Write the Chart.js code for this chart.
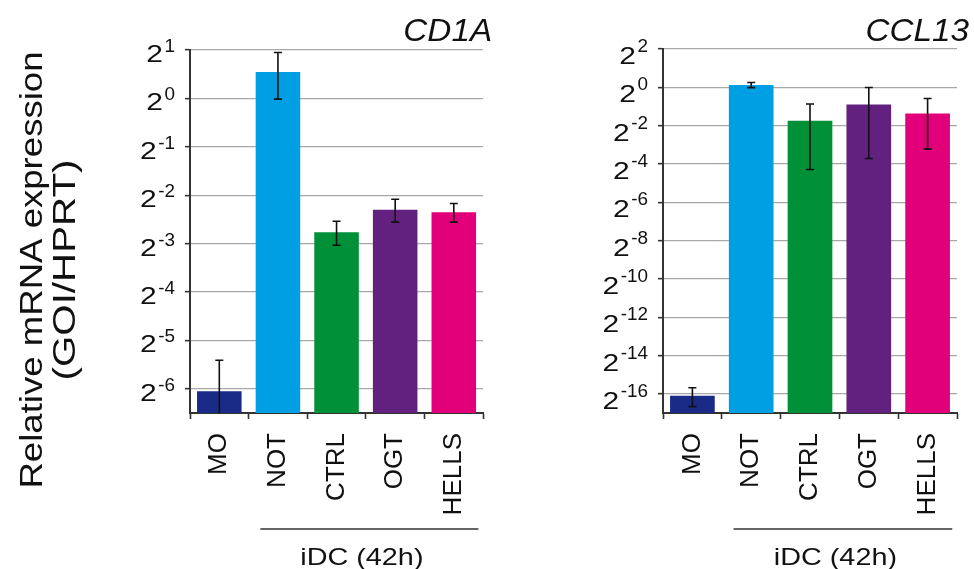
<!DOCTYPE html>
<html>
<head>
<meta charset="utf-8">
<script src="https://cdn.jsdelivr.net/npm/chart.js@4.4.1/dist/chart.umd.min.js"></script>
<style>
  body { margin: 0; background: #fff; }
  #wrap { position: relative; width: 974px; height: 569px; }
  #left { position: absolute; left: 0; top: 0; }
  #right { position: absolute; left: 500px; top: 0; }
</style>
</head>
<body>
<div id="wrap">
  <div id="left" style="width:500px;height:569px"><canvas id="cd1a"></canvas></div>
  <div id="right" style="width:474px;height:569px"><canvas id="ccl13"></canvas></div>
</div>
<script>
const categories = ["MO", "NOT", "CTRL", "OGT", "HELLS"];
const barColors = ["#1a2a87", "#009fe3", "#009038", "#62217f", "#e2007a"];

// relative mRNA expression (GOI/HPRT) and SD
const cd1aValues = [0.0151, 1.46, 0.147, 0.203, 0.196];
const cd1aErrors = [0.0084, 0.47, 0.025, 0.033, 0.026];
const ccl13Values = [0.0000143, 1.09, 0.299, 0.536, 0.387];
const ccl13Errors = [0.0000047, 0.10, 0.248, 0.46, 0.28];

// y tick labels, as powers of two
const cd1aTickExps = [1, 0, -1, -2, -3, -4, -5, -6];
const ccl13TickExps = [2, 0, -2, -4, -6, -8, -10, -12, -14, -16];

const groupLabel = "iDC (42h)";
const yTitle = ["Relative mRNA expression", "(GOI/HPRT)"];

const FONT = "'Liberation Sans', Arial, sans-serif";

// the source font is wider than Arial, so stretch it a bit
function wideText(ctx, text, x, y, sx, align) {
  ctx.save();
  ctx.translate(x, y);
  ctx.scale(sx, 1);
  ctx.textAlign = align;
  ctx.fillText(text, 0, 0);
  ctx.restore();
}

const extrasPlugin = {
  id: "extras",
  afterDatasetsDraw(chart) {
    const ctx = chart.ctx;
    const o = chart.options.plugins.extras;
    const y = chart.scales.y;
    const area = chart.chartArea;
    const meta = chart.getDatasetMeta(0);

    // error bars
    ctx.save();
    ctx.strokeStyle = "#111";
    ctx.lineWidth = 1.6;
    meta.data.forEach((bar, i) => {
      const v = o.values[i], e = o.errors[i];
      const top = y.getPixelForValue(v + e);
      let bot = v - e > 0 ? y.getPixelForValue(v - e) : area.bottom;
      const clipped = bot >= area.bottom;
      if (clipped) bot = area.bottom;
      ctx.beginPath();
      ctx.moveTo(bar.x, top); ctx.lineTo(bar.x, bot);
      ctx.moveTo(bar.x - 4, top); ctx.lineTo(bar.x + 4, top);
      if (!clipped) { ctx.moveTo(bar.x - 4, bot); ctx.lineTo(bar.x + 4, bot); }
      ctx.stroke();
    });
    ctx.restore();
  },
  afterDraw(chart) {
    const ctx = chart.ctx;
    const o = chart.options.plugins.extras;
    const y = chart.scales.y;
    const x = chart.scales.x;
    const area = chart.chartArea;
    ctx.save();
    ctx.fillStyle = "#111";
    ctx.textBaseline = "alphabetic";

    // y tick labels 2^n
    o.tickExps.forEach(n => {
      const py = y.getPixelForValue(Math.pow(2, n));
      const right = area.left - 15;
      const ex = String(n);
      ctx.font = "18px " + FONT;
      const ew = ctx.measureText(ex).width * 1.05;
      wideText(ctx, ex, right, py + o.expDy, 1.05, "right");
      ctx.font = "24px " + FONT;
      wideText(ctx, "2", right - ew - 1.5, py + o.baseDy, 1.25, "right");
    });

    // title
    ctx.font = "italic 32px " + FONT;
    wideText(ctx, o.title, area.right + o.titleShift, 41, 1.04, "right");

    // group bracket and label
    const w = x.getPixelForValue(1) - x.getPixelForValue(0);
    const c1 = x.getPixelForValue(1), c4 = x.getPixelForValue(4);
    ctx.strokeStyle = "#333";
    ctx.lineWidth = 1.5;
    ctx.beginPath();
    ctx.moveTo(c1 - 0.3 * w, 529);
    ctx.lineTo(c4 + 0.42 * w, 529);
    ctx.stroke();
    ctx.font = "24px " + FONT;
    wideText(ctx, groupLabel, (c1 + c4) / 2 - 4, 565, 1.2, "center");

    // shared y title, left chart only
    if (o.yTitle) {
      ctx.translate(0, 270);
      ctx.rotate(-Math.PI / 2);
      ctx.font = "31px " + FONT;
      wideText(ctx, yTitle[0], 0, 42, 1.18, "center");
      wideText(ctx, yTitle[1], 0, 75, 1.3, "center");
    }
    ctx.restore();
  }
};

function makeChart(id, values, errors, tickExps, minExp, maxExp, opts) {
  return new Chart(document.getElementById(id), {
    type: "bar",
    data: {
      labels: categories,
      datasets: [{
        data: values,
        backgroundColor: barColors,
        borderWidth: 0,
        barPercentage: 0.76,
        categoryPercentage: 1.0
      }]
    },
    plugins: [extrasPlugin],
    options: {
      responsive: true,
      maintainAspectRatio: false,
      animation: false,
      layout: { padding: { left: 0, top: opts.top, right: opts.right, bottom: 0 } },
      plugins: {
        legend: { display: false },
        tooltip: { enabled: false },
        extras: {
          values: values,
          errors: errors,
          tickExps: tickExps,
          title: opts.title,
          titleShift: opts.titleShift,
          expDy: opts.expDy,
          baseDy: opts.baseDy,
          yTitle: opts.yTitle
        }
      },
      scales: {
        x: {
          afterFit(s) { s.height = 156; },
          border: { color: "#333", width: 2 },
          grid: { drawOnChartArea: false, drawTicks: true, tickLength: 6, tickColor: "#333", tickWidth: 1.6 },
          ticks: {
            autoSkip: false,
            minRotation: 90,
            maxRotation: 90,
            padding: 14,
            color: "#111",
            font: { family: FONT, size: 26 }
          }
        },
        y: {
          type: "logarithmic",
          bounds: "data",
          min: Math.pow(2, minExp),
          max: Math.pow(2, maxExp),
          afterFit(s) { s.width = opts.axisWidth; },
          afterBuildTicks(s) { s.ticks = tickExps.map(n => ({ value: Math.pow(2, n) })); },
          border: { color: "#333", width: 2 },
          grid: { color: "#a8a8a8", lineWidth: 1.3, tickLength: 5, tickColor: "#333", tickWidth: 1.6 },
          ticks: { display: false }
        }
      }
    }
  });
}

makeChart("cd1a", cd1aValues, cd1aErrors, cd1aTickExps, -6.5, 1,
  { top: 50, right: 10, axisWidth: 190, title: "CD1A", titleShift: 9, expDy: 2, baseDy: 12, yTitle: true });
makeChart("ccl13", ccl13Values, ccl13Errors, ccl13TickExps, -17, 2,
  { top: 49, right: 12, axisWidth: 163, title: "CCL13", titleShift: 12, expDy: 3, baseDy: 15, yTitle: false });
</script>
</body>
</html>
